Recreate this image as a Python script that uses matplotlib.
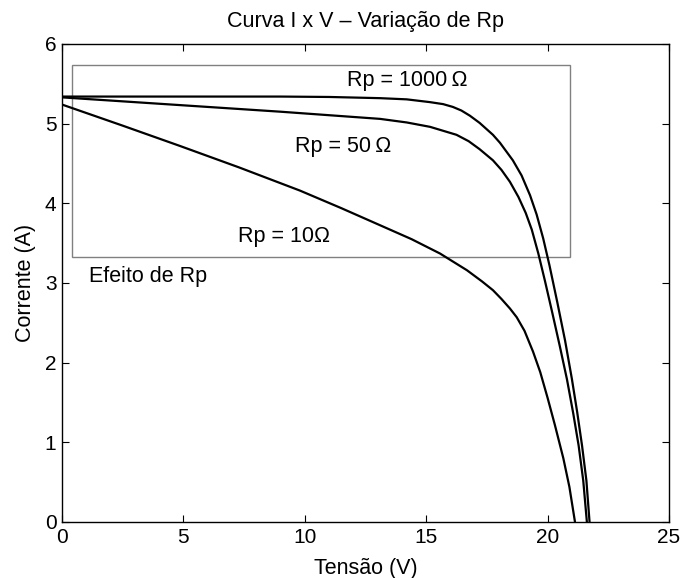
import matplotlib
matplotlib.use("Agg")
import matplotlib.pyplot as plt
from matplotlib.patches import Rectangle

# I-V curves (tensão em V, corrente em A)
v_rp1000 = [0.0, 5.0, 9.0, 11.0, 13.1, 14.2, 15.16, 15.7, 16.1, 16.45, 16.8,
            17.2, 17.75, 18.04, 18.57, 18.93, 19.28, 19.55, 19.82, 20.08,
            20.4, 20.72, 21.0, 21.22, 21.42, 21.6, 21.73]
i_rp1000 = [5.34, 5.34, 5.34, 5.335, 5.32, 5.305, 5.27, 5.245, 5.21, 5.165,
            5.10, 5.01, 4.86, 4.76, 4.54, 4.35, 4.10, 3.86, 3.56, 3.22,
            2.76, 2.28, 1.80, 1.38, 0.96, 0.52, 0.0]

v_rp50 = [0.0, 4.5, 9.0, 13.1, 14.2, 15.16, 16.25, 16.75, 17.2, 17.75,
          18.1, 18.45, 18.8, 19.1, 19.35, 19.62, 19.89, 20.2, 20.51, 20.8,
          21.06, 21.28, 21.47, 21.62]
i_rp50 = [5.33, 5.24, 5.15, 5.06, 5.015, 4.96, 4.86, 4.78, 4.68, 4.54,
          4.42, 4.27, 4.08, 3.88, 3.67, 3.37, 3.03, 2.62, 2.20, 1.79,
          1.36, 0.96, 0.52, 0.0]

v_rp10 = [0.0, 2.5, 4.86, 7.3, 9.8, 11.5, 13.1, 14.4, 15.57, 16.68, 17.3,
          17.75, 18.1, 18.45, 18.73, 19.05, 19.4, 19.7, 20.0, 20.3, 20.65,
          20.9, 21.13]
i_rp10 = [5.24, 4.975, 4.72, 4.45, 4.16, 3.94, 3.725, 3.55, 3.37, 3.16, 3.02,
          2.91, 2.80, 2.68, 2.57, 2.40, 2.14, 1.88, 1.56, 1.22, 0.80,
          0.44, 0.0]

# gray box marking the region where Rp matters
box_v = [0.41, 20.92]
box_i = [3.33, 5.74]

x_ticks = [0, 5, 10, 15, 20, 25]
y_ticks = [0, 1, 2, 3, 4, 5, 6]

FONT = ["Liberation Sans", "DejaVu Sans"]
plt.rcParams["font.family"] = FONT

fig = plt.figure(figsize=(6.81, 5.78), dpi=100)
ax = fig.add_axes([0.0910, 0.0969, 0.8913, 0.8270])

for v, i in [(v_rp1000, i_rp1000), (v_rp50, i_rp50), (v_rp10, i_rp10)]:
    ax.plot(v, i, color="black", lw=1.6, solid_joinstyle="round")

ax.add_patch(Rectangle((box_v[0], box_i[0]), box_v[1] - box_v[0],
                       box_i[1] - box_i[0], fill=False,
                       edgecolor="#808080", lw=1.0))

fs = 15.5
ax.text(11.74, 5.47, "Rp = 1000\u2009\u03a9", fontsize=fs, va="baseline")
ax.text(9.6, 4.65, "Rp = 50\u2009\u03a9", fontsize=fs, va="baseline")
ax.text(7.26, 3.51, "Rp = 10\u03a9", fontsize=fs, va="baseline")
ax.text(1.12, 3.01, "Efeito de Rp", fontsize=fs, va="baseline")

ax.set_xlim(0, 25)
ax.set_ylim(0, 6)
ax.set_xticks(x_ticks)
ax.set_yticks(y_ticks)
ax.tick_params(direction="in", length=5, width=0.8, top=True, right=True,
               labelsize=15, pad=4)
for s in ax.spines.values():
    s.set_linewidth(1.0)

ax.set_xlabel("Tensão (V)", fontsize=15.5, labelpad=8)
ax.set_ylabel("Corrente (A)", fontsize=15.5, labelpad=6)
ax.set_title("Curva I x V \u2013 Variação de Rp", fontsize=15.5, pad=12)

fig.savefig("out.png", dpi=100)
